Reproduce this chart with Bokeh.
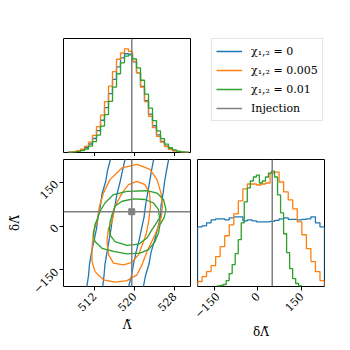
import math
import numpy as np
from bokeh.plotting import figure
from bokeh.models import Range1d, FixedTicker, Legend, LegendItem, Span, CustomLabelingPolicy
from bokeh.layouts import row, column
from bokeh.embed import file_html
from bokeh.resources import INLINE

# ---------------- data ----------------
SERIES_LABELS = ["χ₁,₂ = 0", "χ₁,₂ = 0.005", "χ₁,₂ = 0.01"]
SERIES_COLORS = ["#1f77b4", "#ff7f0e", "#2ca02c"]
INJ_LABEL = "Injection"
INJ_COLOR = "#808080"

INJ_LAM = 519.45
INJ_DL = 49.0

LAM_RANGE = (505.8, 531.2)
DL_RANGE = (-207.0, 228.0)
LAM_TICKS = [512, 520, 528]
DL_TICKS = [-150, 0, 150]
DL_TICK_LABELS = {-150: "−150", 0: "0", 150: "150"}

# Lambda-tilde marginal (normalised heights), 30 bins between these limits
LAM_BIN_LO, LAM_BIN_HI = 506.8, 530.8
lam_hist_0 = [0.003, 0.006, 0.013, 0.025, 0.047, 0.082, 0.135, 0.212, 0.311, 0.433,
              0.569, 0.705, 0.826, 0.913, 0.953, 0.948, 0.875, 0.769, 0.638, 0.500,
              0.370, 0.258, 0.170, 0.106, 0.062, 0.034, 0.018, 0.009, 0.004, 0.002]
lam_hist_1 = [0.004, 0.009, 0.018, 0.033, 0.060, 0.100, 0.165, 0.250, 0.360, 0.490,
              0.640, 0.780, 0.900, 0.960, 1.000, 0.975, 0.880, 0.770, 0.630, 0.490,
              0.350, 0.240, 0.155, 0.100, 0.058, 0.030, 0.015, 0.008, 0.004, 0.002]
lam_hist_2 = [0.002, 0.004, 0.009, 0.018, 0.034, 0.062, 0.105, 0.168, 0.255, 0.365,
              0.494, 0.631, 0.760, 0.865, 0.929, 0.942, 0.902, 0.817, 0.697, 0.563,
              0.428, 0.308, 0.209, 0.134, 0.081, 0.046, 0.025, 0.013, 0.006, 0.003]

# delta Lambda-tilde marginal (arbitrary units), 28 bins each
DL_BIN_LO_0, DL_BIN_HI_0 = -207.0, 228.0
DL_BIN_LO_1, DL_BIN_HI_1 = -207.0, 228.0
DL_BIN_LO_2, DL_BIN_HI_2 = -140.0, 150.0
dl_hist_0 = [60, 61, 64, 67, 68, 68, 67, 69, 70, 70, 66, 67, 66, 65,
             65, 65, 65.5, 66.5, 68, 69, 67.5, 67.5, 67, 67.5, 68, 70, 64, 60]
dl_hist_1 = [5, 10, 15, 21, 30, 40, 51, 62, 73, 86, 98, 103, 103, 102,
             103, 104, 114, 115, 105, 95, 87, 78, 65, 52, 38, 25, 15, 6]
dl_hist_2 = [0.5, 1, 2, 6, 13, 22, 33, 47, 64, 85, 99, 106, 110, 112,
             104, 106, 110, 114, 116, 110, 92, 74, 53, 34, 18, 8, 3, 0.5]

# 2D credible contours (Lambda-tilde, delta Lambda-tilde)
# chi = 0 : contours open beyond the plotted delta range -> four curves
blue_dl = [235, 190, 150, 110, 70, 30, -10, -50, -90, -130, -170, -215]
blue_outer_left = [515.3, 514.6, 514.2, 513.5, 513.2, 512.7, 512.4, 511.9, 511.4, 511.0, 510.8, 510.4]
blue_inner_left = [518.2, 517.6, 517.1, 516.5, 516.1, 515.6, 515.3, 514.9, 514.5, 514.1, 513.9, 513.6]
blue_inner_right = [523.9, 523.4, 523.0, 522.6, 522.2, 521.9, 521.4, 520.9, 520.3, 519.8, 519.4, 518.7]
blue_outer_right = [526.9, 526.4, 526.0, 525.7, 525.3, 525.2, 524.6, 524.0, 523.3, 522.9, 522.2, 521.7]

orange_outer_lam = [520.5, 523.1, 524.5, 525.3, 525.6, 525.4, 525.1, 524.1, 522.5, 521.5, 520.5, 518.5,
                    516.1, 513.8, 512.1, 511.5, 511.5, 511.8, 512.5, 513.0, 513.8, 515.1, 517.5]
orange_outer_dl = [211, 194, 159, 113, 68, 37, 13, -30, -87, -133, -167, -187,
                   -192, -184, -156, -121, -76, -18, 13, 68, 113, 159, 199]
orange_inner_lam = [520.5, 522.1, 523.0, 523.2, 522.8, 522.3, 521.8, 520.8, 519.5, 517.8, 515.8, 514.8,
                    514.5, 514.8, 515.5, 516.1, 517.5, 518.8]
orange_inner_dl = [153, 142, 113, 68, 13, -29, -53, -98, -124, -133, -127, -98,
                   -53, -7, 13, 68, 113, 142]

green_outer_lam = [518.5, 522.5, 524.5, 525.8, 526.3, 525.9, 525.1, 524.8, 524.1, 522.8, 521.1, 518.5,
                   515.8, 513.5, 512.1, 511.8, 512.1, 512.6, 513.1, 514.1, 515.8]
green_outer_dl = [119, 121, 113, 91, 56, 28, 5, -24, -53, -81, -93, -95,
                  -87, -76, -53, -30, 5, 26, 51, 79, 108]
green_inner_lam = [517.5, 519.8, 522.1, 523.8, 524.8, 525.0, 524.2, 523.5, 522.5, 520.8, 518.5, 516.1,
                   515.1, 515.0, 515.1, 515.5, 516.1]
green_inner_dl = [85, 93, 91, 79, 56, 28, 6, -12, -41, -62, -66, -53,
                  -30, -7, 13, 39, 68]

# ---------------- helpers ----------------
FONT = "DejaVu Serif"
LW = 1.3


def step_xy(lo, hi, heights):
    h = np.asarray(heights, dtype=float)
    edges = np.linspace(lo, hi, len(h) + 1)
    xs = np.repeat(edges, 2)
    ys = np.concatenate([[0.0], np.repeat(h, 2), [0.0]])
    return xs, ys


def closed(a):
    return list(a) + [a[0]]


def style(p):
    p.outline_line_color = "black"
    p.outline_line_width = 1
    p.grid.visible = False
    p.background_fill_color = "white"
    p.border_fill_color = "white"
    for ax in p.axis:
        ax.axis_line_color = None
        ax.major_tick_line_color = "black"
        ax.major_tick_out = 4
        ax.major_tick_in = 0
        ax.minor_tick_line_color = None
        ax.major_label_text_font = FONT
        ax.major_label_text_font_size = "11px"
        ax.major_label_text_color = "black"
        ax.axis_label_text_font = FONT
        ax.axis_label_text_font_size = "12px"
        ax.axis_label_text_font_style = "normal"
        ax.axis_label_text_color = "black"


# ---------------- top-left: Lambda-tilde marginal ----------------
lam_max = max(max(lam_hist_0), max(lam_hist_1), max(lam_hist_2))
p_tl = figure(width=193, height=156, title=None, output_backend="svg", toolbar_location=None,
              x_range=Range1d(*LAM_RANGE), y_range=Range1d(0, 1.1 * lam_max),
              y_axis_location=None,
              min_border_left=63, min_border_right=3, min_border_top=25, min_border_bottom=4)
lam_series = []
for hist, col in zip([lam_hist_0, lam_hist_1, lam_hist_2], SERIES_COLORS):
    xs, ys = step_xy(LAM_BIN_LO, LAM_BIN_HI, hist)
    lam_series.append((xs, ys))
    p_tl.line(xs, ys, line_color=col, line_width=LW)
p_tl.add_layout(Span(location=INJ_LAM, dimension="height", line_color=INJ_COLOR, line_width=1.5))
style(p_tl)
p_tl.xaxis.ticker = FixedTicker(ticks=LAM_TICKS)
p_tl.xaxis.major_label_text_font_size = "0px"
p_tl.xaxis.major_label_standoff = 0
# ticks only: drop every tick label of this shared axis
p_tl.xaxis.major_label_policy = CustomLabelingPolicy(
    code="for (const i of indices) { indices.unset(i) }\nreturn indices")

# ---------------- top-right: legend only ----------------
p_tr = figure(width=141, height=156, title=None, output_backend="svg", toolbar_location=None,
              x_range=Range1d(0, 1), y_range=Range1d(0, 1),
              x_axis_location=None, y_axis_location=None,
              min_border_left=18, min_border_right=0, min_border_top=38, min_border_bottom=0)
p_tr.outline_line_color = None
p_tr.grid.visible = False
p_tr.border_fill_color = "white"
p_tr.background_fill_color = "white"
items = []
# legend proxies: the real series, which lie outside this blank panel's range
for (xs, ys), lab, col in zip(lam_series, SERIES_LABELS, SERIES_COLORS):
    r = p_tr.line(xs, ys, line_color=col, line_width=1.5)
    items.append(LegendItem(label=lab, renderers=[r]))
r_inj = p_tr.line([INJ_LAM, INJ_LAM], [INJ_DL, INJ_DL], line_color=INJ_COLOR, line_width=1.5)
items.append(LegendItem(label=INJ_LABEL, renderers=[r_inj]))
legend = Legend(items=items, location="top_left",
                label_text_font=FONT, label_text_font_size="11px", label_text_color="black",
                glyph_width=26, glyph_height=16, label_height=16, label_standoff=9,
                spacing=3, padding=4, margin=0,
                border_line_color="#cccccc", border_line_width=1,
                background_fill_color="white", background_fill_alpha=1.0)
p_tr.add_layout(legend)

# ---------------- bottom-left: 2D ----------------
p_bl = figure(width=193, height=186, title=None, output_backend="svg", toolbar_location=None,
              x_range=Range1d(*LAM_RANGE), y_range=Range1d(*DL_RANGE),
              min_border_left=63, min_border_right=3, min_border_top=3, min_border_bottom=56)
for line in [blue_outer_left, blue_inner_left, blue_inner_right, blue_outer_right]:
    p_bl.line(line, blue_dl, line_color=SERIES_COLORS[0], line_width=LW)
p_bl.line(closed(orange_outer_lam), closed(orange_outer_dl), line_color=SERIES_COLORS[1], line_width=LW)
p_bl.line(closed(orange_inner_lam), closed(orange_inner_dl), line_color=SERIES_COLORS[1], line_width=LW)
p_bl.line(closed(green_outer_lam), closed(green_outer_dl), line_color=SERIES_COLORS[2], line_width=LW)
p_bl.line(closed(green_inner_lam), closed(green_inner_dl), line_color=SERIES_COLORS[2], line_width=LW)
p_bl.add_layout(Span(location=INJ_LAM, dimension="height", line_color=INJ_COLOR, line_width=1.5))
p_bl.add_layout(Span(location=INJ_DL, dimension="width", line_color=INJ_COLOR, line_width=1.5))
p_bl.scatter([INJ_LAM], [INJ_DL], marker="square", size=6, color=INJ_COLOR)
style(p_bl)
p_bl.xaxis.ticker = FixedTicker(ticks=LAM_TICKS)
p_bl.yaxis.ticker = FixedTicker(ticks=DL_TICKS)
p_bl.yaxis.major_label_overrides = DL_TICK_LABELS
p_bl.xaxis.major_label_orientation = math.pi / 4
p_bl.yaxis.major_label_orientation = math.pi / 4
p_bl.xaxis.major_label_standoff = 4
p_bl.yaxis.major_label_standoff = 3
p_bl.xaxis.axis_label = "Λ̃"
p_bl.yaxis.axis_label = "δΛ̃"
p_bl.xaxis.axis_label_standoff = 0
p_bl.yaxis.axis_label_standoff = 4

# ---------------- bottom-right: delta Lambda-tilde marginal ----------------
dl_max = max(max(dl_hist_0), max(dl_hist_1), max(dl_hist_2))
p_br = figure(width=141, height=186, title=None, output_backend="svg", toolbar_location=None,
              x_range=Range1d(*DL_RANGE), y_range=Range1d(0, 1.1 * dl_max),
              y_axis_location=None,
              min_border_left=4, min_border_right=10, min_border_top=3, min_border_bottom=56)
for hist, lo, hi, col in zip([dl_hist_0, dl_hist_1, dl_hist_2],
                             [DL_BIN_LO_0, DL_BIN_LO_1, DL_BIN_LO_2],
                             [DL_BIN_HI_0, DL_BIN_HI_1, DL_BIN_HI_2], SERIES_COLORS):
    xs, ys = step_xy(lo, hi, hist)
    p_br.line(xs, ys, line_color=col, line_width=LW)
p_br.add_layout(Span(location=INJ_DL, dimension="height", line_color=INJ_COLOR, line_width=1.5))
style(p_br)
p_br.xaxis.ticker = FixedTicker(ticks=DL_TICKS)
p_br.xaxis.major_label_overrides = DL_TICK_LABELS
p_br.xaxis.major_label_orientation = math.pi / 4
p_br.xaxis.major_label_standoff = 4
p_br.xaxis.axis_label = "δΛ̃"
p_br.xaxis.axis_label_standoff = 0

layout = column(row(p_tl, p_tr), row(p_bl, p_br))
open("out.html", "w").write(file_html(layout, INLINE))
